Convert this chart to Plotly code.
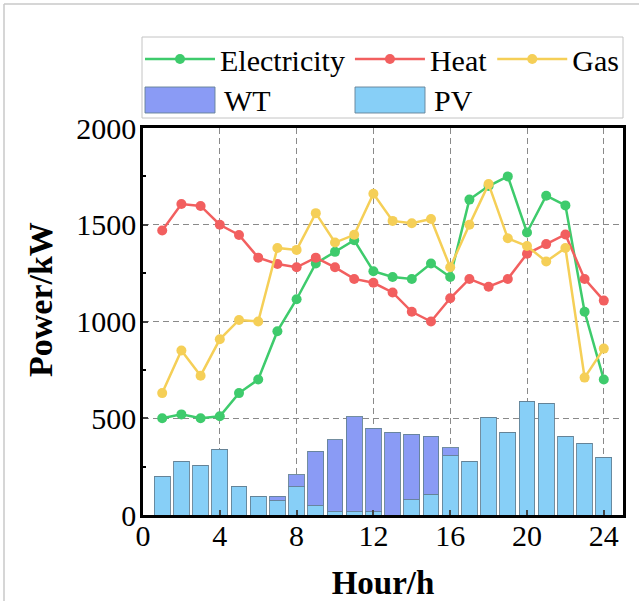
import plotly.graph_objects as go

hours = list(range(1, 25))
electricity = [500, 520, 500, 510, 630, 700, 950, 1115, 1300, 1360, 1420, 1260,
               1230, 1220, 1300, 1230, 1630, 1700, 1750, 1460, 1650, 1600, 1050, 700]
heat = [1470, 1607, 1597, 1500, 1447, 1330, 1297, 1280, 1330, 1280, 1220, 1200,
        1150, 1050, 1000, 1120, 1220, 1180, 1220, 1350, 1400, 1450, 1220, 1108]
gas = [630, 850, 720, 908, 1008, 1000, 1380, 1370, 1560, 1408, 1448, 1660,
       1520, 1508, 1530, 1280, 1500, 1710, 1430, 1390, 1310, 1380, 710, 860]
pv = [198, 279, 257, 338, 148, 98, 74, 146, 48, 17, 17, 17,
      0, 78, 107, 306, 279, 506, 427, 587, 577, 405, 367, 298]
wt = [0, 0, 0, 0, 0, 0, 24, 62, 281, 371, 491, 431,
      427, 339, 300, 42, 0, 0, 0, 0, 0, 0, 0, 0]

x_ticks = [0, 4, 8, 12, 16, 20, 24]
y_ticks = [0, 500, 1000, 1500, 2000]

FONT = "Liberation Serif"
C_E = "#3ecb6c"
C_H = "#f25f5f"
C_G = "#f5cf57"
C_PV = "#87cff7"
C_WT = "#8a9bf5"
EDGE = "rgba(100,130,150,0.9)"

W, H = 639, 601
L, R, T, B = 143, 16, 128, 86
PW, PH = W - L - R, H - T - B


def px(xp):
    return (xp - L) / PW


def py(yp):
    return (H - B - yp) / PH


fig = go.Figure()
fig.add_trace(go.Bar(x=hours, y=pv, name="PV", marker=dict(color=C_PV, line=dict(color=EDGE, width=1)),
                     width=0.82, showlegend=False))
fig.add_trace(go.Bar(x=hours, y=wt, name="WT", marker=dict(color=C_WT, line=dict(color=EDGE, width=1)),
                     width=0.82, showlegend=False))
for name, vals, col in [("Electricity", electricity, C_E), ("Heat", heat, C_H), ("Gas", gas, C_G)]:
    fig.add_trace(go.Scatter(x=hours, y=vals, name=name, mode="lines+markers",
                             line=dict(color=col, width=2.5), marker=dict(color=col, size=10)))

shapes = []
annotations = []
# outer light frame (left & top)
shapes.append(dict(type="line", xref="paper", yref="paper", x0=px(4), x1=px(660), y0=py(4), y1=py(4),
                   line=dict(color="#c8c8c8", width=1.5)))
shapes.append(dict(type="line", xref="paper", yref="paper", x0=px(4), x1=px(4), y0=py(4), y1=py(620),
                   line=dict(color="#c8c8c8", width=1.5)))
# legend box
shapes.append(dict(type="rect", xref="paper", yref="paper", x0=px(142), x1=px(623), y0=py(37), y1=py(118),
                   line=dict(color="#c4c4c4", width=1), fillcolor="white", layer="below"))
# second legend row: wide swatches for the bar series
for name, col, x0 in [("WT", C_WT, 145), ("PV", C_PV, 355)]:
    shapes.append(dict(type="rect", xref="paper", yref="paper", x0=px(x0), x1=px(x0 + 70),
                       y0=py(87), y1=py(113), line=dict(color=EDGE, width=1), fillcolor=col, layer="below"))
    annotations.append(dict(text=name, xref="paper", yref="paper", x=px(x0 + 77), y=py(100),
                            xanchor="left", yanchor="middle", showarrow=False,
                            font=dict(family=FONT, size=30, color="black")))
# y-axis title (sits a little above the plot centre, as in the original)
annotations.append(dict(text="<b>Power/kW</b>", xref="paper", yref="paper", x=px(40), y=py(300),
                        xanchor="center", yanchor="middle", textangle=-90, showarrow=False,
                        font=dict(family=FONT, size=34, color="black")))

fig.update_layout(
    width=W, height=H,
    margin=dict(l=L, r=R, t=T, b=B, autoexpand=False),
    plot_bgcolor="white", paper_bgcolor="white",
    barmode="stack",
    font=dict(family=FONT, size=30, color="black"),
    showlegend=True,
    shapes=shapes,
    annotations=annotations,
    legend=dict(orientation="h", x=px(140), xanchor="left", y=py(33), yanchor="top",
                bgcolor="rgba(0,0,0,0)", borderwidth=0, itemwidth=70,
                font=dict(family=FONT, size=30), traceorder="normal", tracegroupgap=0),
)
fig.update_xaxes(range=[0, 25], tickvals=x_ticks, ticks="inside", ticklen=5, tickwidth=2,
                 ticklabelstandoff=-8,
                 showline=True, linecolor="black", linewidth=2.5, mirror=True,
                 showgrid=True, gridcolor="#8a8a8a", griddash="6px,4px", gridwidth=1,
                 zeroline=False, tickfont=dict(family=FONT, size=30),
                 title=dict(text="<b>Hour/h</b>", font=dict(family=FONT, size=33), standoff=40))
fig.update_yaxes(range=[0, 2000], tickvals=y_ticks, ticks="inside", ticklen=5, tickwidth=2,
                 ticklabelstandoff=-2,
                 minor=dict(dtick=250, ticks="inside", ticklen=3, tickwidth=2, tickcolor="black", showgrid=False),
                 showline=True, linecolor="black", linewidth=2.5, mirror=True,
                 showgrid=True, gridcolor="#8a8a8a", griddash="6px,4px", gridwidth=1,
                 zeroline=False, tickfont=dict(family=FONT, size=30))

fig.write_html("out.html", config={"displayModeBar": False},
               post_script="document.body.style.margin='0px';")
